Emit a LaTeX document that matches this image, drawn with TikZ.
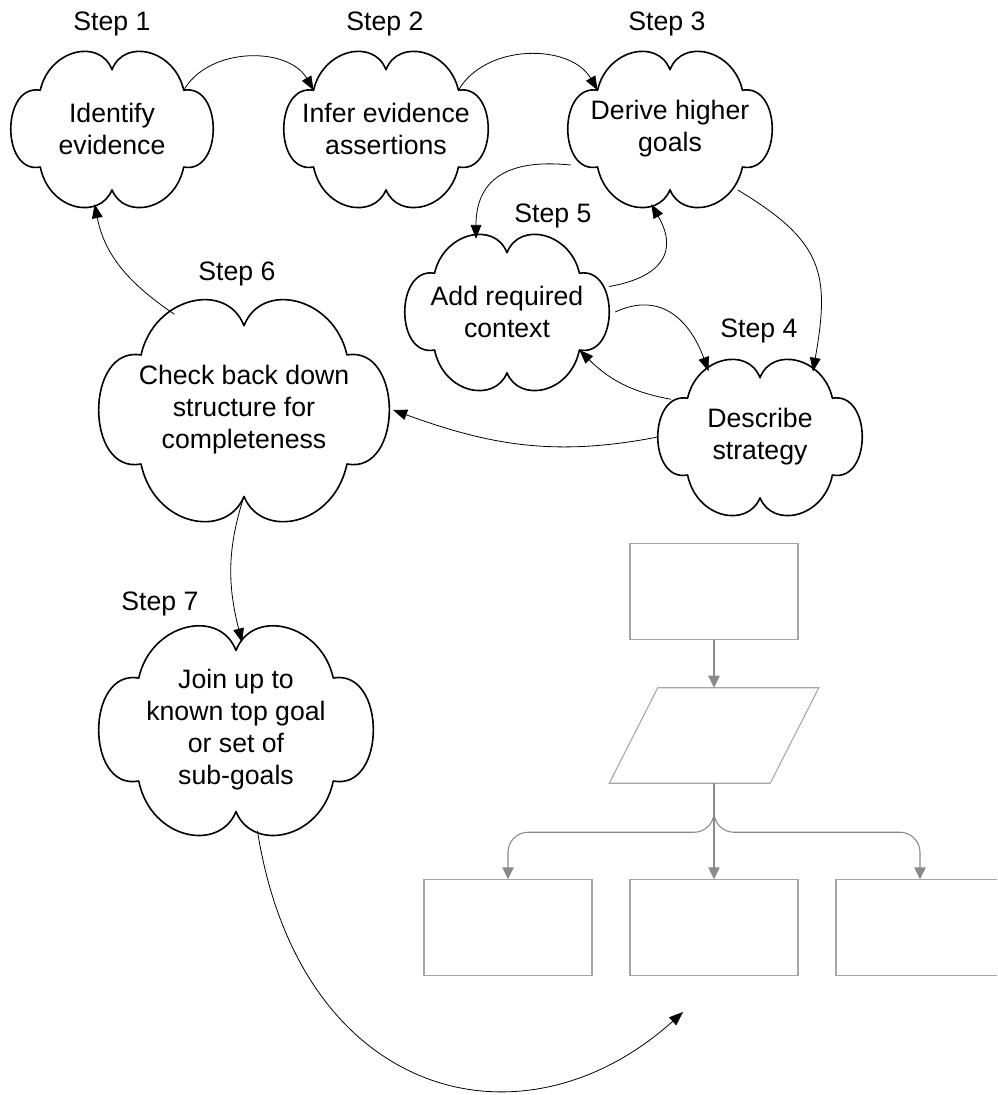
\documentclass[tikz,border=0pt]{standalone}
\usepackage{fontspec}
\setmainfont{Liberation Sans}
\usetikzlibrary{arrows.meta,shapes.geometric,calc}
\definecolor{boxgray}{HTML}{A6A6A6}
\definecolor{arrowgray}{HTML}{8A8A8A}
\tikzset{
  cloudline/.style={line width=1.2pt, line join=round},
  cloudnode/.style={ellipse, inner sep=0pt, align=center, font=\fontsize{20}{24}\selectfont},
  steplabel/.style={font=\fontsize{20}{24}\selectfont, anchor=base, inner sep=0pt},
  conn/.style={line width=0.6pt, -{Triangle[length=10.5pt,width=8pt]}},
  fbox/.style={draw=boxgray, line width=0.8pt, inner sep=0pt, minimum width=126pt, minimum height=71.5pt},
  fconn/.style={draw=arrowgray, line width=0.8pt, rounded corners=15pt, -{Triangle[length=9pt,width=8.5pt,fill=arrowgray]}},
}
% name, cx, cy (downwards), half width, half height, text
\newcommand\mkcloud[6]{%
  \node[cloudnode, minimum width=#4*1.5pt, minimum height=#5*1.5pt] (#1) at (#2,-#3) {#6};
  \begin{scope}[shift={(#1.center)}, xscale=#4, yscale=#5]
    \draw[cloudline] (-0.71,0.51)
      .. controls (-0.62,1.05) and (-0.12,1.2) .. (0,0.78)
      .. controls (0.12,1.2) and (0.62,1.05) .. (0.71,0.51)
      .. controls (1.1,0.6) and (1.1,-0.6) .. (0.71,-0.5)
      .. controls (0.62,-1.08) and (0.12,-1.2) .. (0,-0.8)
      .. controls (-0.12,-1.2) and (-0.62,-1.08) .. (-0.71,-0.5)
      .. controls (-1.1,-0.6) and (-1.1,0.6) .. cycle;
    \coordinate (#1-tl) at (-0.71,0.51);
    \coordinate (#1-t)  at (0,0.78);
    \coordinate (#1-tr) at (0.71,0.51);
    \coordinate (#1-br) at (0.71,-0.5);
    \coordinate (#1-b)  at (0,-0.8);
    \coordinate (#1-bl) at (-0.71,-0.5);
  \end{scope}}
\begin{document}
\begin{tikzpicture}[x=0.75pt,y=0.75pt]
\clip (0,0) rectangle (997,-1095);
\fill[white] (0,0) rectangle (997,-1095);

% clouds
\mkcloud{c1}{112}{129}{101}{76}{Identify\\evidence}
\mkcloud{c2}{386}{129}{102}{76}{Infer evidence\\assertions}
\mkcloud{c3}{670}{129}{102}{76}{Derive higher\\goals}
\mkcloud{c5}{507}{312}{102}{76}{Add required\\context}
\mkcloud{c4}{760}{437}{102}{76}{Describe\\strategy}
\mkcloud{c6}{244}{410}{145}{108}{Check back down\\structure for\\completeness}
\mkcloud{c7}{236}{730}{137}{102}{Join up to\\known top goal\\or set of\\sub-goals}

% step labels
\node[steplabel] (s1) at (112,-31) {Step 1};
\node[steplabel] (s2) at (385,-31) {Step 2};
\node[steplabel] (s3) at (667,-31) {Step 3};
\node[steplabel] (s5) at (553,-222) {Step 5};
\node[steplabel] (s4) at (759,-337) {Step 4};
\node[steplabel] (s6) at (237,-280) {Step 6};
\node[steplabel] (s7) at (160,-610) {Step 7};

% cloud connectors
\draw[conn] (c1-tr) to[out=60,in=120] (c2-tl);
\draw[conn] (c2-tr) to[out=60,in=120] (c3-tl);
\draw[conn] (c3.200) to[out=174,in=90,looseness=1.3] (c5.113);
\draw[conn] (c5.14) to[out=10,in=-60,looseness=1.5] (c3.256);
\draw[conn] (c5.0) to[out=25,in=110,looseness=1.2] (c4.128);
\draw[conn] (c4.157) to[out=170,in=-45] (c5-br);
\draw[conn] (c3.-42) to[out=-31,in=80,looseness=1.3] (c4.51);
\draw[conn] (c4.180) to[out=191,in=-20] (c6.0);
\draw[conn] (c6.126) to[out=146,in=-79] (c1.257);
\draw[conn] (c6-b) to[out=-108,in=104] ([xshift=4.5pt,yshift=6pt]c7-t);
\coordinate (kend) at (683,-1012);
\draw[conn] (c7.-78) to[out=-81,in=-138,out looseness=1.5,in looseness=1.2] (kend);

% flowchart
\node[fbox] (r1) at (714,-591.5) {};
\node[inner sep=0pt, minimum width=156.75pt, minimum height=71.25pt] (par) at (714,-735.5) {};
\draw[draw=boxgray, line width=0.8pt, line join=miter]
  ([xshift=36.4pt]par.north west) -- (par.north east)
  -- ([xshift=-36.4pt]par.south east) -- (par.south west) -- cycle;
\node[fbox] (b1) at (508,-927.5) {};
\node[fbox] (b2) at (714,-927.5) {};
\node[fbox] (b3) at (920,-927.5) {};

\draw[fconn] (r1.south) -- (par.north);
\draw[fconn] (par.south) -- ++(0,-49) -| (b1.north);
\draw[fconn] (par.south) -- (b2.north);
\draw[fconn] (par.south) -- ++(0,-49) -| (b3.north);
\end{tikzpicture}
\end{document}
